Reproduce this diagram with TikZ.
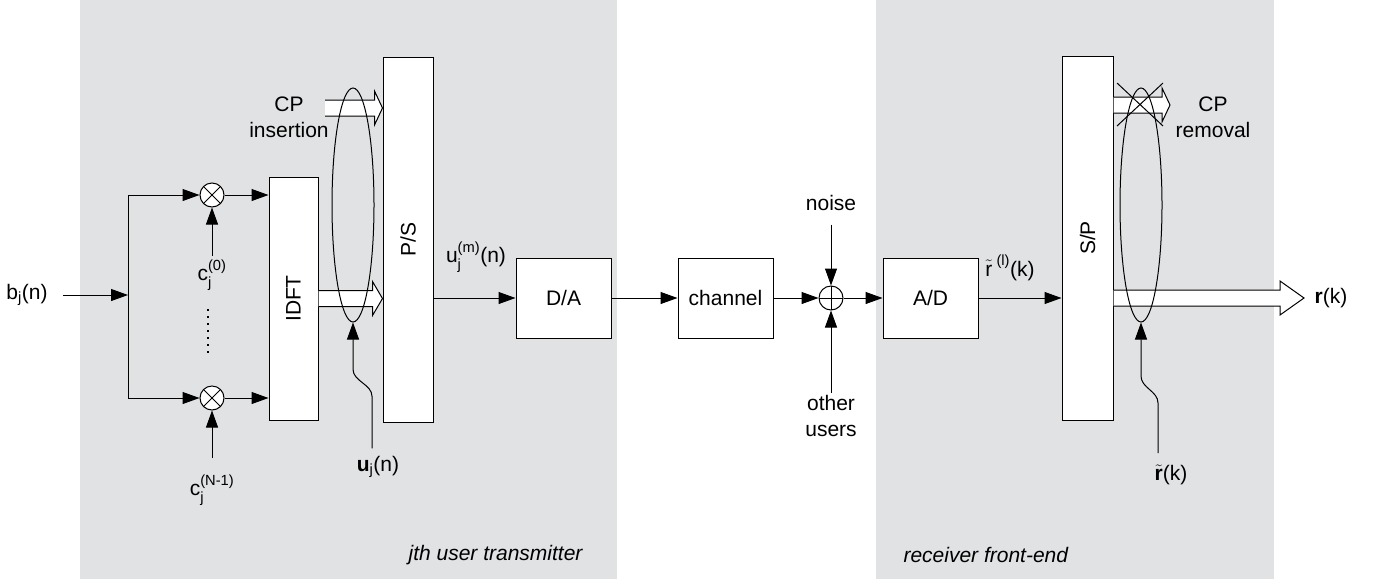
\documentclass[tikz,border=0pt]{standalone}
\usepackage{amsmath,graphicx}
\usepackage{fontspec}
\setmainfont{Liberation Sans}
\usetikzlibrary{arrows.meta, calc, positioning, shapes.geometric}
\definecolor{panel}{RGB}{225,226,228}

\newcommand{\widearrow}[3]{%
	\draw[fill=white] ($(#1)+(0,8)$) -- ($(#2)+(-#3,8)$) -- ($(#2)+(-#3,17)$) -- (#2) -- ($(#2)+(-#3,-17)$) -- ($(#2)+(-#3,-8)$) -- ($(#1)+(0,-8)$);}

\begin{document}
\begin{tikzpicture}[x=1pt, y=-1pt, line width=1pt, font=\fontsize{21}{26}\selectfont,
	arr/.style={-{Triangle[length=17pt,width=12pt]}},
	block/.style={draw, fill=white, minimum width=95pt, minimum height=80pt, inner sep=0pt},
	tallblock/.style={draw, fill=white, inner sep=0pt},
	mult/.style={circle, draw, fill=white, minimum size=24pt, inner sep=0pt,
		path picture={\draw (path picture bounding box.north west) -- (path picture bounding box.south east)
			(path picture bounding box.south west) -- (path picture bounding box.north east);}},
	adder/.style={circle, draw, fill=white, minimum size=24pt, inner sep=0pt,
		path picture={\draw (path picture bounding box.north) -- (path picture bounding box.south)
			(path picture bounding box.west) -- (path picture bounding box.east);}},
	grp/.style={draw, ellipse, minimum width=42pt, minimum height=234pt, inner sep=0pt},
	lbl/.style={inner sep=2pt, align=center},
	part/.style={inner sep=0pt, font=\fontsize{21}{26}\selectfont\itshape}]

		\useasboundingbox (0,0) rectangle (1378,587);
		\fill[panel] (80,0) rectangle (617,579);
		\fill[panel] (876,0) rectangle (1274,579);

		% transmitter
		\node (bj) at (27,295) {b$_\text{j}$(n)};
		\coordinate (split) at (128,295);
		\node[mult] (mul0) at (212,195) {};
		\node[mult] (mulN) at (212,398) {};
		\node (c0) at (212,275) {c$_\text{j}^\text{(0)}$};
		\node (cN) at (212,490) {c$_\text{j}^\text{(N-1)}$};
		\node[tallblock, minimum width=49pt, minimum height=243pt] (idft) at (293.5,298.5) {\rotatebox{90}{IDFT}};
		\node[tallblock, minimum width=50pt, minimum height=365pt] (ps) at (408,239.5) {\rotatebox{90}{P/S}};

		\draw[arr] ([xshift=12pt]bj.east) -- (split);
		\draw[arr] (split) |- (mul0);
		\draw[arr] (split) |- (mulN);
		\draw[arr] (mul0) -- (mul0 -| idft.west);
		\draw[arr] (mulN) -- (mulN -| idft.west);
		\draw[arr] (c0) -- (mul0);
		\draw[arr] ([yshift=13pt]cN.north) -- (mulN);
		\draw[line width=1.3pt, dash pattern=on 1.5pt off 5.5pt] (208,309) -- (208,357);

		\widearrow{idft.east}{idft.east -| ps.west}{10}
		\coordinate (cpin) at (325,108);
		\widearrow{cpin}{cpin -| ps.west}{8}
		\node[lbl] (cpins) at (289,117) {CP\\insertion};
		\node[grp] (grp1) at (353,205) {};
		\node (uj) at (378,467) {\textbf{u}$_\text{j}$(n)};
		\draw[arr] ([xshift=-6pt,yshift=4pt]uj.north) -- ++(0,-52) .. controls +(0,-12) and +(0,12) .. ++(-19,-27) -- (grp1.south);

		% channel
		\node[block] (da) at (563.5,298) {D/A};
		\node (ujm) at (476,257) {u$_\text{j}^\text{(m)}$(n)};
		\node[block] (chan) at (725.5,298) {channel};
		\node[adder] (sum) at (831,298) {};
		\node (noise) at (831,203) {noise};
		\node[lbl] (users) at (831,416) {other\\users};

		\draw[arr] (ps.east |- da.west) -- (da.west);
		\draw[arr] (da) -- (chan);
		\draw[arr] (chan) -- (sum);
		\draw[arr] ([yshift=-10pt]noise.south) -- (sum);
		\draw[arr] (users) -- (sum);

		% receiver
		\node[block] (ad) at (930.5,298) {A/D};
		\node[tallblock, minimum width=51pt, minimum height=364pt] (sp) at (1087.5,238) {\rotatebox{90}{S/P}};
		\node (rl) at (1010,268) {$\tilde{\text{r}}^{\text{ (l)}}$(k)};
		\draw[arr] (sum) -- (ad);
		\draw[arr] (ad) -- (ad -| sp.west);

		\coordinate (cpout) at (sp.east |- 0,105);
		\widearrow{cpout}{1170,105}{8}
		\draw (1117,83) -- (1163,126) (1117,126) -- (1163,83);
		\node[lbl] (cprem) at (1213,117) {CP\\removal};
		\coordinate (rout) at (1304,298);
		\widearrow{sp.east |- rout}{rout}{24}
		\node (rk) at (1331,298) {\textbf{r}(k)};
		\node[grp] (grp2) at (1141,205) {};
		\node (rt) at (1171,475) {$\tilde{\textbf{r}}$(k)};
		\draw[arr] ([xshift=-13pt,yshift=8pt]rt.north) -- ++(0,-50) .. controls +(0,-12) and +(0,12) .. ++(-17,-27) -- (grp2.south);

		\node[part, anchor=east] (txname) at (583,555) {jth user transmitter};
		\node[part, anchor=west] (rxname) at (903,555) {receiver front-end};
\end{tikzpicture}
\end{document}
